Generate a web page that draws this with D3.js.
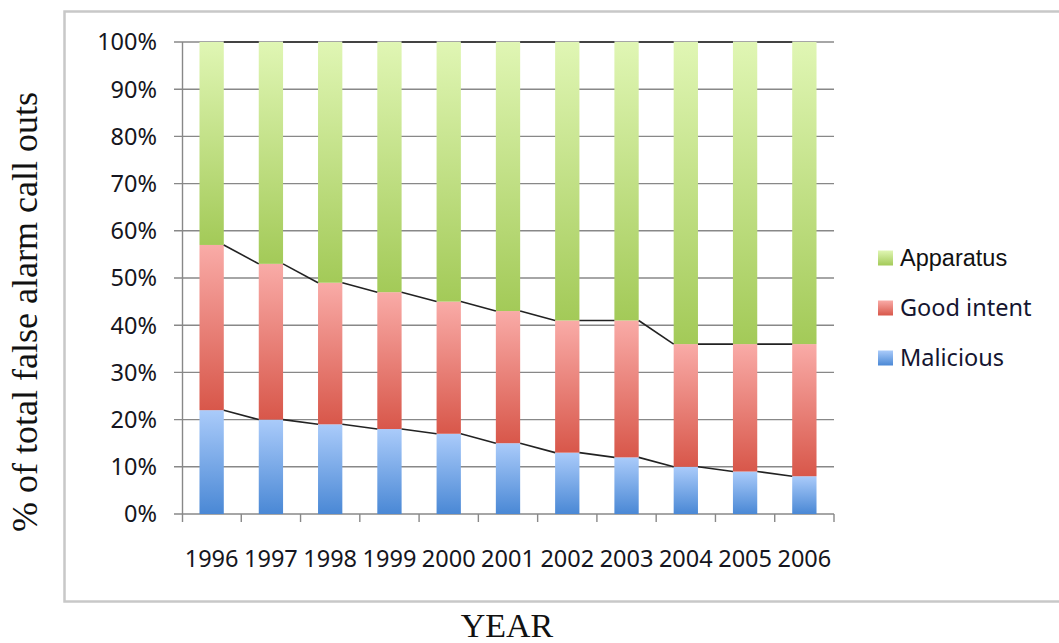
<!DOCTYPE html>
<html>
<head>
<meta charset="utf-8">
<script src="https://cdn.jsdelivr.net/npm/d3@7"></script>
<style>
  html, body { margin: 0; padding: 0; background: #fff; }
  svg { display: block; }
</style>
</head>
<body>
<svg id="chart" width="1059" height="643"></svg>
<script>
// Share of false alarm call outs by type, 1996–2006 (percent of total)
const years = ["1996","1997","1998","1999","2000","2001","2002","2003","2004","2005","2006"];
const malicious  = [22, 20, 19, 18, 17, 15, 13, 12, 10, 9, 8];
const goodIntent = [35, 33, 30, 29, 28, 28, 28, 29, 26, 27, 28];
const apparatus  = [43, 47, 51, 53, 55, 57, 59, 59, 64, 64, 64];
const seriesNames = ["Malicious", "Good intent", "Apparatus"];
const yTicks = [0, 10, 20, 30, 40, 50, 60, 70, 80, 90, 100];

const rows = years.map((yr, i) => ({
  year: yr,
  "Malicious": malicious[i],
  "Good intent": goodIntent[i],
  "Apparatus": apparatus[i]
}));

const svg = d3.select("#chart");
const labelFont = "Noto Sans, DejaVu Sans, sans-serif";

// Gradient fills: light at the top of each segment, deeper at the bottom
const defs = svg.append("defs");
const grads = {
  "Apparatus":   ["#e0f6b4", "#a3ca58"],
  "Good intent": ["#f9aba7", "#d8574a"],
  "Malicious":   ["#aacbfa", "#4a88d5"]
};
const gradId = name => "g-" + name.replace(/\s+/g, "-");
Object.entries(grads).forEach(([name, [c0, c1]]) => {
  const g = defs.append("linearGradient")
    .attr("id", gradId(name))
    .attr("x1", 0).attr("y1", 0).attr("x2", 0).attr("y2", 1);
  g.append("stop").attr("offset", "0%").attr("stop-color", c0);
  g.append("stop").attr("offset", "100%").attr("stop-color", c1);
});

// Outer chart frame
svg.append("rect")
  .attr("x", 64.5).attr("y", 11.5)
  .attr("width", 1010).attr("height", 590)
  .attr("fill", "none")
  .attr("stroke", "#c8c8c8")
  .attr("stroke-width", 2.5);

const x = d3.scaleBand().domain(years).range([182, 834]).padding(0);
const y = d3.scaleLinear().domain([0, 100]).range([514, 42]);
const barW = x.bandwidth() * 0.41;
const barX = d => x(d) + (x.bandwidth() - barW) / 2;

// Horizontal gridlines with short ticks left of the axis
svg.append("g").selectAll("line")
  .data(yTicks)
  .join("line")
  .attr("x1", 174).attr("x2", 834)
  .attr("y1", d => y(d)).attr("y2", d => y(d))
  .attr("stroke", "#888")
  .attr("stroke-width", 1.4);

// Y axis line
svg.append("line")
  .attr("x1", 182.5).attr("x2", 182.5)
  .attr("y1", y(100)).attr("y2", y(0) + 8)
  .attr("stroke", "#888").attr("stroke-width", 1.4);

// Category boundary ticks below the x axis
const boundaries = years.map(d => x(d)).concat([x.range()[1]]);
svg.append("g").selectAll("line")
  .data(boundaries.slice(1))
  .join("line")
  .attr("x1", d => d).attr("x2", d => d)
  .attr("y1", y(0)).attr("y2", y(0) + 8)
  .attr("stroke", "#888").attr("stroke-width", 1.4);

// Y tick labels
svg.append("g").selectAll("text")
  .data(yTicks)
  .join("text")
  .attr("x", 157)
  .attr("y", d => y(d))
  .attr("dy", "0.36em")
  .attr("text-anchor", "end")
  .attr("font-family", labelFont)
  .attr("font-size", 23.5)
  .attr("fill", "#151520")
  .text(d => d + "%");

// X tick labels
svg.append("g").selectAll("text")
  .data(years)
  .join("text")
  .attr("x", d => x(d) + x.bandwidth() / 2)
  .attr("y", 567)
  .attr("text-anchor", "middle")
  .attr("font-family", labelFont)
  .attr("font-size", 23.5)
  .attr("fill", "#151520")
  .text(d => d);

// Stacked bars
const stack = d3.stack().keys(seriesNames);
const layers = stack(rows);

svg.append("g").selectAll("g")
  .data(layers)
  .join("g")
  .attr("fill", d => `url(#${gradId(d.key)})`)
  .selectAll("rect")
  .data(d => d)
  .join("rect")
  .attr("x", d => barX(d.data.year))
  .attr("width", barW)
  .attr("y", d => y(d[1]))
  .attr("height", d => y(d[0]) - y(d[1]));

// Series lines joining the top of each segment between neighbouring bars
const seriesLineG = svg.append("g")
  .attr("stroke", "#222")
  .attr("stroke-width", 1.6)
  .attr("fill", "none");
layers.forEach(layer => {
  for (let i = 0; i < layer.length - 1; i++) {
    const a = layer[i], b = layer[i + 1];
    seriesLineG.append("line")
      .attr("x1", barX(a.data.year) + barW)
      .attr("y1", y(a[1]))
      .attr("x2", barX(b.data.year))
      .attr("y2", y(b[1]));
  }
});

// Legend
const legendItems = [
  { name: "Apparatus",   font: "Liberation Sans, Arial, sans-serif", size: 23.5 },
  { name: "Good intent", font: labelFont, size: 23.5 },
  { name: "Malicious",   font: labelFont, size: 23.5 }
];
const legend = svg.append("g");
legendItems.forEach((it, i) => {
  const cy = 258 + i * 50;
  legend.append("rect")
    .attr("x", 878).attr("y", cy - 7.5)
    .attr("width", 15).attr("height", 15)
    .attr("fill", `url(#${gradId(it.name)})`);
  legend.append("text")
    .attr("x", 900).attr("y", cy + 8)
    .attr("font-family", it.font)
    .attr("font-size", it.size)
    .attr("fill", i === 0 ? "#111" : "#151530")
    .text(it.name);
});

// Axis titles
svg.append("text")
  .attr("transform", "translate(37,312) rotate(-90)")
  .attr("text-anchor", "middle")
  .attr("font-family", "Liberation Serif, Times New Roman, serif")
  .attr("font-size", 36)
  .attr("fill", "#111")
  .text("% of total false alarm call outs");

svg.append("text")
  .attr("x", 507).attr("y", 637)
  .attr("text-anchor", "middle")
  .attr("font-family", "Liberation Serif, Times New Roman, serif")
  .attr("font-size", 34)
  .attr("fill", "#111")
  .text("YEAR");
</script>
</body>
</html>
